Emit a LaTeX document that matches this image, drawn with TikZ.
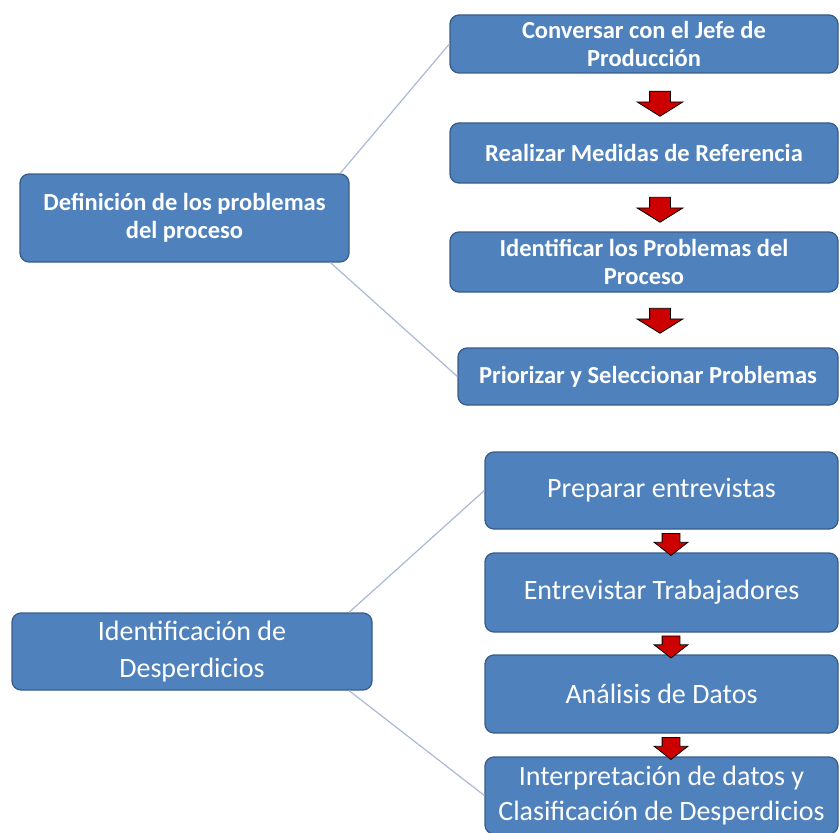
\documentclass[tikz,border=0pt]{standalone}
\usepackage{fontspec}
\setmainfont{Carlito}
\usepackage{tikz}
\usetikzlibrary{shapes.arrows}

\definecolor{cajaazul}{RGB}{79,129,189}
\definecolor{bordeazul}{RGB}{56,93,138}
\definecolor{lineaazul}{RGB}{170,184,214}
\definecolor{rojoflecha}{RGB}{205,0,0}

\tikzset{
	caja/.style={draw=bordeazul, line width=1.3pt, fill=cajaazul, rounded corners=9pt,
		text=white, align=center, inner sep=0pt},
	cajaA/.style={caja, font=\bfseries\fontsize{24.5}{28}\selectfont},
	cajaB/.style={caja, font=\fontsize{28}{35}\selectfont},
	flecha/.style={single arrow, rotate=-90, draw=black, line width=0.8pt, fill=rojoflecha,
		inner xsep=0pt, inner ysep=10pt, minimum height=25pt, single arrow head extend=12.5pt,
		single arrow tip angle=116},
	flechita/.style={flecha, inner ysep=8.5pt, minimum height=22pt, single arrow head extend=8pt,
		single arrow tip angle=104},
	rama/.style={draw=lineaazul, line width=1.2pt}
}

\begin{document}
\begin{tikzpicture}[x=1pt, y=-1pt]

\useasboundingbox (0,0) rectangle (840,832);

% primera etapa
\node[cajaA, minimum width=388pt, minimum height=58pt] (c1) at (644,44) {Conversar con el Jefe de\\Producción};
\node[cajaA, minimum width=388pt, minimum height=60pt] (c2) at (644,153) {Realizar Medidas de Referencia};
\node[cajaA, minimum width=388pt, minimum height=60pt] (c3) at (644,262) {Identificar los Problemas del\\Proceso};
\node[cajaA, minimum width=380pt, minimum height=57pt] (c4) at (648,376.5) {Priorizar y Seleccionar Problemas};
\node[cajaA, minimum width=329pt, minimum height=88pt] (def) at (184.5,218) {Definición de los problemas\\del proceso};

\node[flecha] (f1) at (660,100.5) {};
\node[flecha] (f2) at (660,206.5) {};
\node[flecha] (f3) at (660,317.5) {};

\draw[rama] (def.16.5) -- (c1.west);
\draw[rama] (def.-17) -- (c4.west);

% segunda etapa
\node[cajaB, minimum width=353pt, minimum height=77pt] (p1) at (661.5,490.5) {Preparar entrevistas};
\node[cajaB, minimum width=353pt, minimum height=79pt] (p2) at (661.5,592.5) {Entrevistar Trabajadores};
\node[cajaB, minimum width=353pt, minimum height=78pt] (p3) at (661.5,694) {Análisis de Datos};
\node[cajaB, minimum width=353pt, minimum height=77pt] (p4) at (661.5,795.5) {Interpretación de datos y\\Clasificación de Desperdicios};
\node[caja, font=\fontsize{28}{37}\selectfont, minimum width=360pt, minimum height=77pt] (iden) at (192,651.5) {Identificación de\\Desperdicios};

\node[flechita] (g1) at (671,541) {};
\node[flechita] (g2) at (671,643.5) {};
\node[flechita] (g3) at (671,745) {};

\draw[rama] (iden.14) -- (p1.west);
\draw[rama] (iden.-14) -- (p4.west);

\end{tikzpicture}
\end{document}
